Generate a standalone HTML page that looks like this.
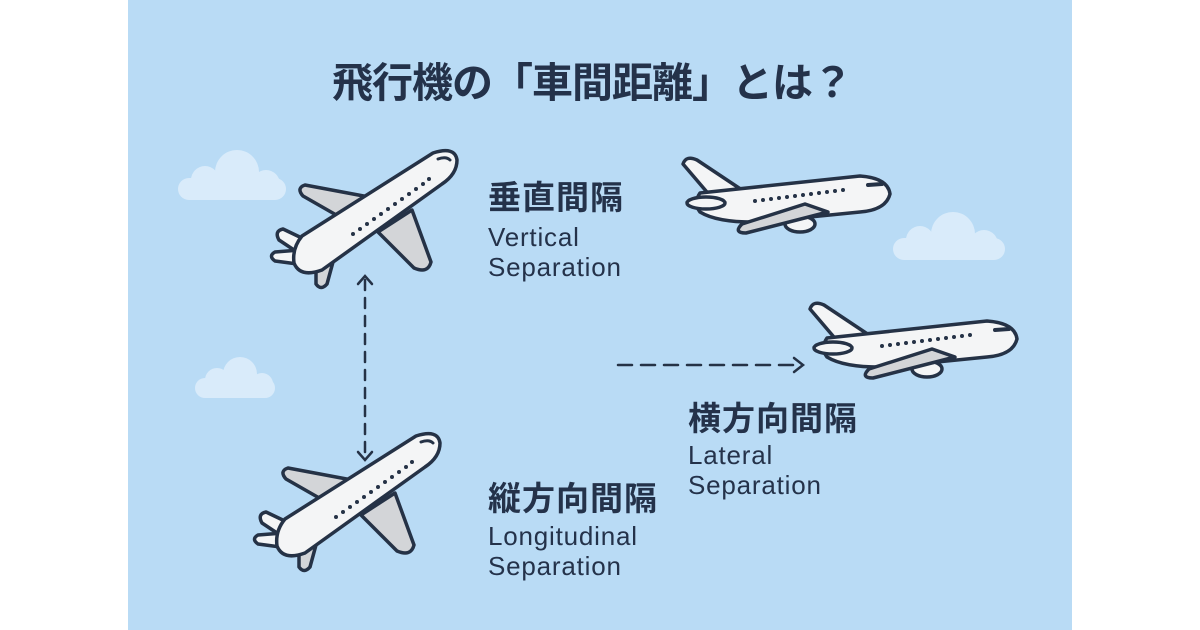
<!DOCTYPE html>
<html><head><meta charset="utf-8"><style>
html,body{margin:0;padding:0;background:#fff;}
body{width:1200px;height:630px;position:relative;overflow:hidden;font-family:"Liberation Sans","Noto Sans CJK JP",sans-serif;}
#panel{position:absolute;left:128px;top:0;width:944px;height:630px;background:#b9dbf5;}
.t{position:absolute;color:#24324a;white-space:nowrap;}
.jp{font-weight:bold;font-size:33px;letter-spacing:1px;}
.en{font-size:26px;line-height:30px;letter-spacing:0.8px;}
</style></head><body>
<div id="panel"></div>
<svg width="1200" height="630" style="position:absolute;left:0;top:0">
<defs>
<g id="top" stroke="#253246" stroke-width="3.5" stroke-linejoin="round" stroke-linecap="round">
  <path d="M385 200 L305 185 Q296 188 303 196 L352 224 Z" fill="#d3d5d8"/>
  <path d="M378 232 L414 268 Q428 274 431 262 L412 210 Z" fill="#d3d5d8"/>
  <path d="M306 240 L283 229 Q274 231 279 240 L300 254 Z" fill="#f4f5f6"/>
  <path d="M300 250 L275 252 Q268 256 275 261 L305 265 Z" fill="#f4f5f6"/>
  <path d="M316 262 L316 284 Q321 291 327 284 L333 262 Z" fill="#d3d5d8"/>
  <path d="M302 236 L433 153 Q455 146 457 160 Q457 174 442 184 L322 270 Q300 278 294 263 Q292 248 302 236 Z" fill="#f4f5f6"/>
  <path d="M438 159 Q446 156 450 160" fill="none" stroke-width="3"/>
  <g fill="#253246" stroke="none">
   <circle cx="353" cy="234" r="2"/><circle cx="360" cy="229" r="2"/><circle cx="367" cy="224" r="2"/><circle cx="374" cy="219" r="2"/><circle cx="381" cy="214" r="2"/><circle cx="388" cy="209" r="2"/><circle cx="395" cy="204" r="2"/><circle cx="402" cy="199" r="2"/><circle cx="409" cy="194" r="2"/><circle cx="416" cy="189" r="2"/><circle cx="423" cy="184" r="2"/><circle cx="429" cy="179" r="2"/>
  </g>
</g>
<g id="side" stroke="#253246" stroke-width="3.5" stroke-linejoin="round" stroke-linecap="round">
  <path d="M712 198 L683 164 Q686 155 697 160 L742 190 Z" fill="#f4f5f6"/>
  <ellipse cx="800" cy="224" rx="15" ry="8" fill="#f4f5f6"/>
  <path d="M700 193 L860 176 Q888 178 890 194 Q886 210 860 212 L760 222 Q718 223 700 212 Q693 203 700 193 Z" fill="#f4f5f6"/>
  <ellipse cx="706" cy="203" rx="19" ry="6" fill="#f4f5f6"/>
  <path d="M805 204 L742 224 Q733 233 746 233 L828 212 Z" fill="#d3d5d8"/>
  <path d="M868 185 L882 184" stroke-width="4"/>
  <g fill="#253246" stroke="none">
   <circle cx="755" cy="201" r="2"/><circle cx="763" cy="200" r="2"/><circle cx="771" cy="199" r="2"/><circle cx="779" cy="198" r="2"/><circle cx="787" cy="197" r="2"/><circle cx="795" cy="196" r="2"/><circle cx="803" cy="195" r="2"/><circle cx="811" cy="194" r="2"/><circle cx="819" cy="193" r="2"/><circle cx="827" cy="192" r="2"/><circle cx="835" cy="191" r="2"/><circle cx="843" cy="190" r="2"/>
  </g>
</g>
</defs>
<g fill="#d9ebfa">
  <rect x="178" y="178" width="108" height="22" rx="11"/><circle cx="205" cy="180" r="14"/><circle cx="237" cy="172" r="22"/><circle cx="266" cy="184" r="14"/>
  <rect x="893" y="238" width="112" height="22" rx="11"/><circle cx="920" cy="240" r="14"/><circle cx="953" cy="234" r="22"/><circle cx="984" cy="244" r="14"/>
  <rect x="195" y="378" width="80" height="20" rx="10"/><circle cx="217" cy="380" r="12"/><circle cx="240" cy="374" r="17"/><circle cx="262" cy="384" r="11"/>
</g>
<use href="#top"/>
<use href="#top" transform="translate(-17,283)"/>
<use href="#side"/>
<use href="#side" transform="translate(127,145)"/>
<g stroke="#253246" stroke-width="2.5" fill="none" stroke-linecap="round">
  <line x1="365" y1="280" x2="365" y2="456" stroke-dasharray="10 8"/>
  <polyline points="358,284 365,276 372,284"/>
  <polyline points="358,452 365,460 372,452"/>
  <line x1="618" y1="365" x2="800" y2="365" stroke-dasharray="14 9"/>
  <polyline points="794,358 803,365 794,372"/>
</g>
</svg>
<div class="t" style="left:330px;width:524px;text-align:center;top:49px;font-size:41px;font-weight:bold;letter-spacing:-1px;">飛行機の「車間距離」とは？</div>
<div class="t jp" style="left:488px;top:171px;">垂直間隔</div>
<div class="t en" style="left:488px;top:222px;">Vertical<br>Separation</div>
<div class="t jp" style="left:688px;top:392px;">横方向間隔</div>
<div class="t en" style="left:688px;top:440px;">Lateral<br>Separation</div>
<div class="t jp" style="left:488px;top:472px;">縦方向間隔</div>
<div class="t en" style="left:488px;top:521px;">Longitudinal<br>Separation</div>
</body></html>
